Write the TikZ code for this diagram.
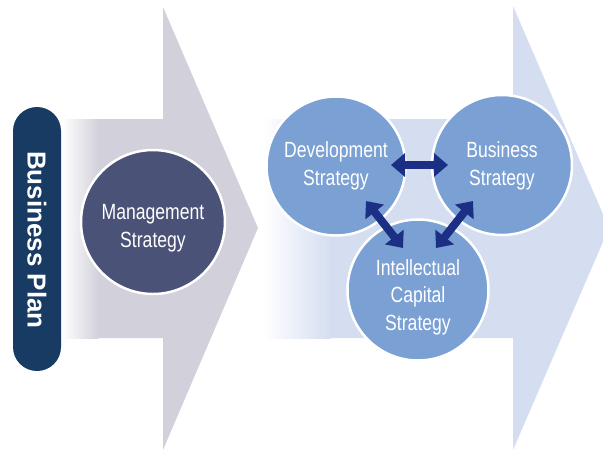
\documentclass[tikz,border=0pt]{standalone}
\usepackage{fontspec}
\setmainfont{Liberation Sans}
\newfontfamily\nf[FakeStretch=0.8]{Liberation Sans}
\usetikzlibrary{arrows.meta}
\definecolor{greyarrow}{HTML}{D2D1DB}
\definecolor{bluearrow}{HTML}{D5DEF1}
\definecolor{pillnavy}{HTML}{183B64}
\definecolor{mgmt}{HTML}{4A5277}
\definecolor{circblue}{HTML}{7BA0D4}
\definecolor{arrnavy}{HTML}{1B2F84}
\tikzset{
  circ/.style={circle, draw=white, line width=2.5pt, minimum size=#1, inner sep=0pt},
  lbl/.style={text=white, align=center, font=\nf\fontsize{22}{27.5}\selectfont},
  dbl/.style={arrnavy, line width=8pt,
     {Triangle[width=23pt,length=14pt]}-{Triangle[width=23pt,length=14pt]}},
}
\begin{document}
\begin{tikzpicture}[x=1pt,y=-1pt]
\useasboundingbox (0,0) rectangle (603,451);
% grey arrow
\fill[greyarrow] (98,119) -- (163,119) -- (163,7) -- (258,228) -- (163,450) -- (163,338) -- (98,338) -- cycle;
\shade[left color=white, right color=greyarrow] (62,119) rectangle (98.5,338);
% blue arrow
\fill[bluearrow] (330,119) -- (513,119) -- (513,6) -- (609,228) -- (513,450) -- (513,338) -- (330,338) -- cycle;
\shade[left color=white, right color=bluearrow] (262,119) rectangle (330.5,338);
% pill
\fill[pillnavy, rounded corners=24pt] (13,107) rectangle (61,371);
\node[text=white, rotate=-90, font=\bfseries\fontsize{26}{30}\selectfont] (bp) at (37,240) {Business Plan};
% management
\node[circ=144pt, fill=mgmt] (ms) at (153,222) {};
\node[lbl] (mst) at (153,228) {Management\\Strategy};
% blue circles
\node[circ=139pt, fill=circblue] (dev) at (336,166) {};
\node[circ=140pt, fill=circblue] (bus) at (502,165) {};
\node[circ=141pt, fill=circblue] (ic) at (418,290) {};
\node[lbl] (devt) at (336,166) {Development\\Strategy};
\node[lbl] (bust) at (502,166) {Business\\Strategy};
\node[lbl] (ict) at (418,297) {Intellectual\\Capital\\Strategy};
% connectors
\coordinate (h1) at (391,165);
\coordinate (h2) at (448,165);
\coordinate (l1) at (366,201);
\coordinate (l2) at (403,248);
\coordinate (r1) at (473,201);
\coordinate (r2) at (436,248);
\draw[dbl] (h1) -- (h2);
\draw[dbl] (l1) -- (l2);
\draw[dbl] (r1) -- (r2);
\end{tikzpicture}
\end{document}
